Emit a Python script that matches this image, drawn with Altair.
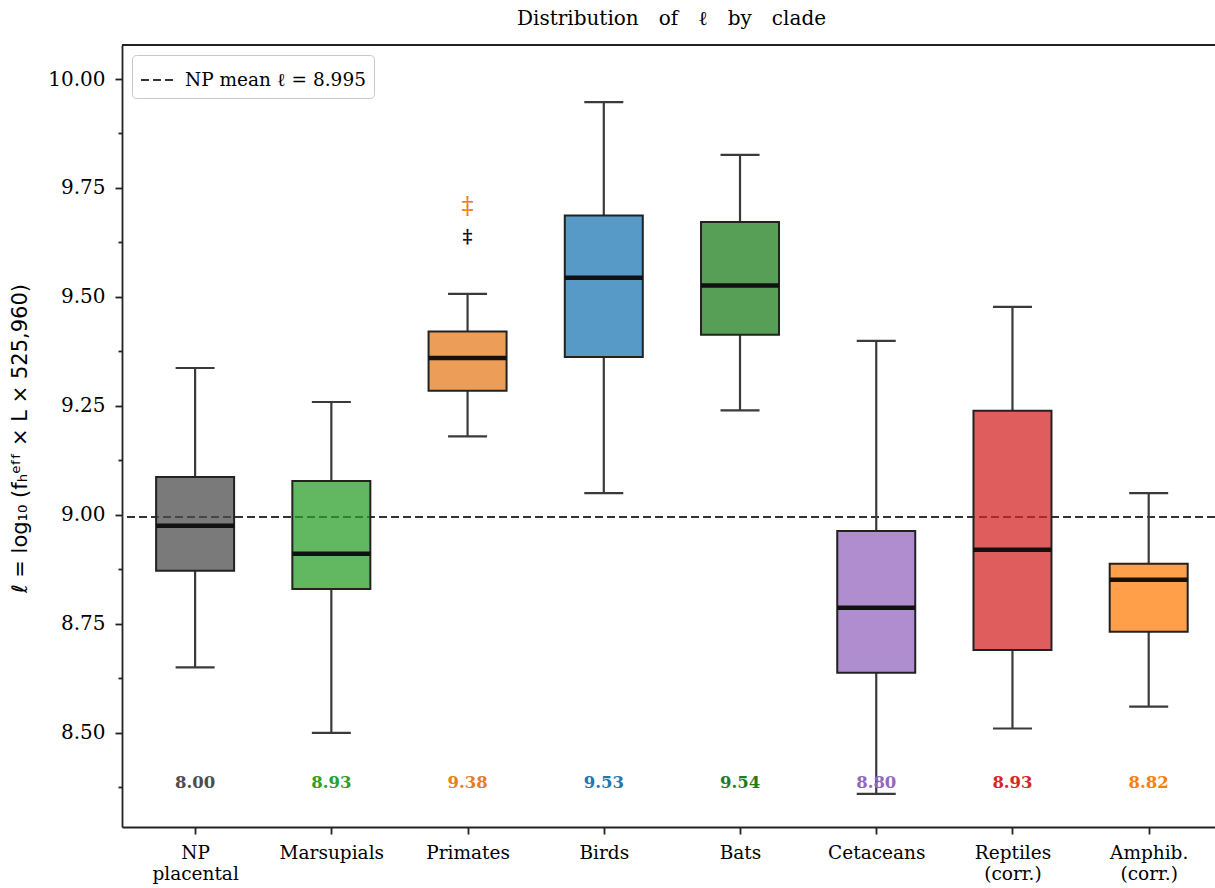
import json
import altair as alt
import pandas as pd

# ---- data ----
clades = ["NP\nplacental", "Marsupials", "Primates", "Birds", "Bats",
          "Cetaceans", "Reptiles\n(corr.)", "Amphib.\n(corr.)"]
whisk_lo = [8.65, 8.50, 9.18, 9.05, 9.24, 8.36, 8.51, 8.56]
q1 = [8.872, 8.830, 9.285, 9.362, 9.413, 8.638, 8.690, 8.732]
median = [8.975, 8.911, 9.360, 9.544, 9.526, 8.787, 8.920, 8.851]
q3 = [9.087, 9.078, 9.421, 9.687, 9.672, 8.963, 9.239, 8.888]
whisk_hi = [9.337, 9.259, 9.507, 9.947, 9.826, 9.399, 9.477, 9.05]
annot = ["8.00", "8.93", "9.38", "9.53", "9.54", "8.80", "8.93", "8.82"]
palette = ["#4d4d4d", "#2ca02c", "#e67e22", "#1f77b4", "#1f7d1f",
           "#9467bd", "#d62728", "#ff7f0e"]

np_mean = 8.995
mean_label = "NP mean ℓ = 8.995"
outlier_black = [9.638]
outlier_orange = [9.706]
annot_level = 8.385
y_ticks = [8.375 + 0.125 * i for i in range(14)]

df = pd.DataFrame({
    "clade": clades,
    "pos": list(range(1, len(clades) + 1)),
    "lo": whisk_lo, "q1": q1, "med": median, "q3": q3, "hi": whisk_hi,
    "annot": annot,
})
mean_df = pd.DataFrame({"label": [mean_label], "v": [np_mean]})
ob_df = pd.DataFrame({"pos": [3] * len(outlier_black), "v": outlier_black, "s": ["‡"] * len(outlier_black)})
oo_df = pd.DataFrame({"pos": [3] * len(outlier_orange), "v": outlier_orange, "s": ["‡"] * len(outlier_orange)})

W, H = 1093, 782
SERIF = "DejaVu Serif"
GAP = "\u2003"

label_lines = json.dumps([c.split("\n") for c in clades])
xscale = alt.Scale(domain=[0.5, 8.45], nice=False, zero=False)
xaxis = alt.Axis(values=list(range(1, 9)), labelExpr=f"{label_lines}[datum.value - 1]",
                 title=None, grid=False, tickSize=7, labelPadding=9,
                 labelFont=SERIF, labelFontSize=18.5, labelColor="black",
                 labelLineHeight=21, labelBaseline="top")
yscale = alt.Scale(domain=[8.284, 10.078], nice=False, zero=False)
yaxis = alt.Axis(values=y_ticks,
                 labelExpr="abs(datum.value*4 - round(datum.value*4)) < 0.01 ? format(datum.value, '.2f') : ''",
                 tickSize={"condition": {"test": "abs(datum.value*4 - round(datum.value*4)) > 0.01", "value": 4}, "value": 7},
                 grid=False, labelFont=SERIF, labelFontSize=20, labelColor="black", labelPadding=10,
                 title="ℓ = log₁₀ (fₕᵉᶠᶠ × L × 525,960)",
                 titleFont="DejaVu Sans", titleFontSize=21, titleFontWeight="normal",
                 titleColor="black", titleAngle=270, titleX=-102, titleY=H / 2 + 2,
                 titleAlign="center", titleBaseline="middle")

X = lambda f="pos": alt.X(f + ":Q", scale=xscale, axis=xaxis)
col = alt.Color("clade:N", scale=alt.Scale(domain=clades, range=palette), legend=None)

base = alt.Chart(df)

mean_rule = alt.Chart(mean_df).mark_rule(color="#333333", strokeWidth=2).encode(
    y=alt.Y("v:Q", scale=yscale, axis=yaxis),
    strokeDash=alt.StrokeDash("label:N", scale=alt.Scale(domain=[mean_label], range=[[8, 4]]),
                              legend=alt.Legend(title=None, orient="top-left", offset=10,
                                                fillColor="white", strokeColor="#c8c8c8",
                                                cornerRadius=4, padding=8, labelLimit=500,
                                                labelFont=SERIF, labelFontSize=18.5, labelColor="black",
                                                symbolType="stroke", symbolSize=1024,
                                                symbolStrokeWidth=2, symbolStrokeColor="#333333",
                                                labelOffset=11)),
)

whisk_low = base.mark_rule(color="#3a3a3a", strokeWidth=2.2).encode(
    x=X(), y=alt.Y("lo:Q", scale=yscale, axis=yaxis), y2="q1:Q")
whisk_high = base.mark_rule(color="#3a3a3a", strokeWidth=2.2).encode(
    x=X(), y=alt.Y("q3:Q", scale=yscale, axis=yaxis), y2="hi:Q")
cap_low = base.mark_tick(orient="horizontal", size=39, thickness=2.2, color="#3a3a3a", opacity=1).encode(
    x=X(), y=alt.Y("lo:Q", scale=yscale, axis=yaxis))
cap_high = base.mark_tick(orient="horizontal", size=39, thickness=2.2, color="#3a3a3a", opacity=1).encode(
    x=X(), y=alt.Y("hi:Q", scale=yscale, axis=yaxis))
boxes = base.mark_bar(size=78, stroke="#222222", strokeWidth=2, fillOpacity=0.75).encode(
    x=X(), y=alt.Y("q1:Q", scale=yscale, axis=yaxis), y2="q3:Q", fill=col)
medians = base.mark_tick(orient="horizontal", size=78, thickness=4.5, color="#111111", opacity=1).encode(
    x=X(), y=alt.Y("med:Q", scale=yscale, axis=yaxis))
ann = base.mark_text(font=SERIF, fontWeight="bold", fontSize=16.5, baseline="middle", align="center").encode(
    x=X(), y=alt.datum(annot_level), text="annot:N", color=col)
ob = alt.Chart(ob_df).mark_text(font=SERIF, fontSize=19, fontWeight="bold", color="#111111",
                                baseline="middle").encode(
    x=X(), y=alt.Y("v:Q", scale=yscale, axis=yaxis), text="s:N")
oo = alt.Chart(oo_df).mark_text(font=SERIF, fontSize=24, color="#e67e22",
                                baseline="middle").encode(
    x=X(), y=alt.Y("v:Q", scale=yscale, axis=yaxis), text="s:N")
top_border = alt.Chart(mean_df).mark_rule(color="#222222", strokeWidth=1.8).encode(
    x=alt.value(0), x2=alt.value(W), y=alt.value(0))

chart = alt.layer(
    mean_rule, whisk_low, whisk_high, cap_low, cap_high, boxes, medians, ann, ob, oo, top_border
).properties(
    width=W, height=H,
    padding={"left": 122, "top": 45, "right": 0, "bottom": 61},
    autosize=alt.AutoSizeParams(type="none"),
    title=alt.TitleParams(f"Distribution{GAP}of{GAP}ℓ{GAP}by{GAP}clade", font=SERIF, fontSize=20,
                          fontWeight="normal", color="black", anchor="middle",
                          dx=3, offset=-1, baseline="alphabetic"),
).configure_view(stroke=None).configure_axis(
    domainColor="#222222", domainWidth=1.8, tickColor="#222222", tickWidth=1.8
)

chart.save("out.html", embed_options={"renderer": "svg", "actions": False})
